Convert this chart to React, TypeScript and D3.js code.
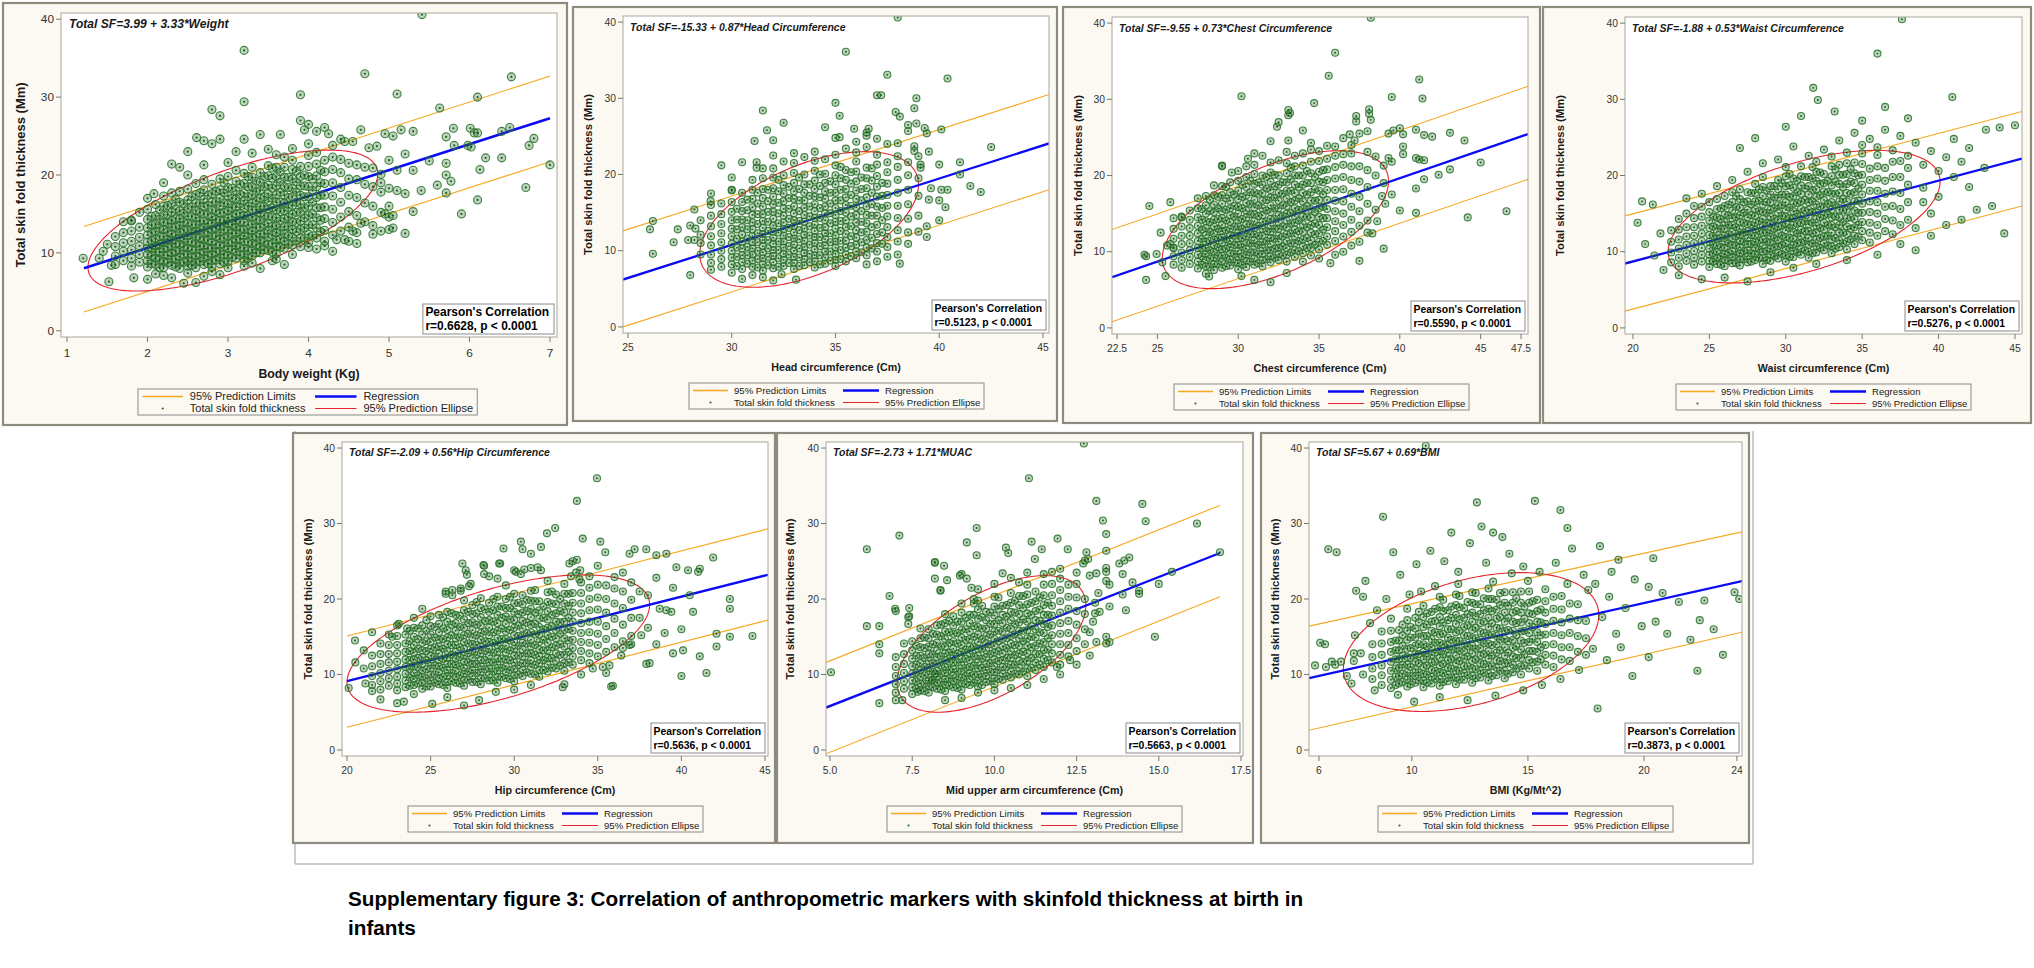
import React from "react";
import * as d3 from "d3";

const FONT = "Arial, 'Liberation Sans', Helvetica, sans-serif";

// ---------------- DATA ----------------
const equations = [
  "Total SF=3.99 + 3.33*Weight",
  "Total SF=-15.33 + 0.87*Head Circumference",
  "Total SF=-9.55 + 0.73*Chest Circumference",
  "Total SF=-1.88 + 0.53*Waist Circumference",
  "Total SF=-2.09 + 0.56*Hip Circumference",
  "Total SF=-2.73 + 1.71*MUAC",
  "Total SF=5.67 + 0.69*BMI",
];
const xTitles = [
  "Body weight (Kg)",
  "Head circumference (Cm)",
  "Chest circumference (Cm)",
  "Waist circumference (Cm)",
  "Hip circumference (Cm)",
  "Mid upper arm circumference (Cm)",
  "BMI (Kg/Mt^2)",
];
const pearsonR = ["0.6628", "0.5123", "0.5590", "0.5276", "0.5636", "0.5663", "0.3873"];
const yTitle = "Total skin fold thickness (Mm)";
const legendLabels = ["95% Prediction Limits", "Regression", "Total skin fold thickness", "95% Prediction Ellipse"];
const xTickValues = [
  [1, 2, 3, 4, 5, 6, 7],
  [25, 30, 35, 40, 45],
  [22.5, 25, 30, 35, 40, 45, 47.5],
  [20, 25, 30, 35, 40, 45],
  [20, 25, 30, 35, 40, 45],
  [5, 7.5, 10, 12.5, 15, 17.5],
  [6, 10, 15, 20, 24],
];
const yTickValues = [0, 10, 20, 30, 40];
const yDomain = [-0.8, 40.8];
const xDomains = [
  [0.925, 7.087], [24.76, 45.29], [22.19, 47.93], [19.48, 45.46],
  [19.7, 45.18], [4.878, 17.56], [5.57, 24.22],
];
// intercept, slope
const fitCoefs = [[3.99, 3.33], [-15.33, 0.87], [-9.55, 0.73], [-1.88, 0.53], [-2.09, 0.56], [-2.73, 1.71], [5.67, 0.69]];
const fitRanges = [[1.21, 7.0], [24.76, 45.29], [22.19, 47.93], [19.48, 45.46], [20.0, 45.18], [4.88, 16.86], [5.57, 24.22]];
// lower@start, upper@start, lower@end, upper@end
const limitEnds = [
  [2.4, 13.4, 21.7, 32.7],
  [0.0, 12.6, 18.0, 30.5],
  [0.8, 12.9, 19.5, 31.7],
  [2.2, 14.7, 16.0, 28.4],
  [3.0, 15.1, 17.2, 29.3],
  [-0.5, 11.6, 20.3, 32.4],
  [2.6, 16.4, 15.6, 28.9],
];
// centre x, centre y, half x-extent, half y-extent, r
const ellipses = [
  [3.06, 14.15, 1.8, 9.05, 0.6628],
  [33.73, 14.1, 5.27, 8.9, 0.5123],
  [32.3, 14.2, 7.0, 9.05, 0.559],
  [31.2, 14.6, 8.9, 8.7, 0.5276],
  [29.05, 14.1, 9.05, 9.1, 0.5636],
  [9.91, 14.05, 2.87, 9.05, 0.5663],
  [12.55, 14.3, 5.5, 9.2, 0.3873],
];

// columns: [x, y1, y2, ...]
const weightCore = [
  [1.6, 8.5, 9.6, 10.8, 12.1], [1.7, 9.0, 10.2, 11.3, 12.6], [1.8, 8.3, 9.3, 10.4, 11.5, 12.8, 14.2],
  [1.9, 8.8, 9.8, 10.9, 12.0, 13.3], [2.0, 8.2, 9.0, 9.8, 10.6, 11.4, 12.3, 13.2, 14.3, 15.6],
  [2.1, 8.5, 9.3, 10.1, 10.9, 11.8, 12.7, 13.7, 14.8, 16.2],
  [2.2, 8.1, 8.9, 9.7, 10.5, 11.3, 12.1, 13.0, 13.9, 14.9, 16.0, 17.3],
  [2.3, 8.4, 9.2, 10.0, 10.8, 11.6, 12.4, 13.3, 14.2, 15.2, 16.3, 17.7],
  [2.4, 8.0, 8.7, 9.5, 10.3, 11.1, 11.9, 12.7, 13.5, 14.4, 15.4, 16.5, 17.9],
  [2.5, 8.3, 9.0, 9.8, 10.6, 11.4, 12.2, 13.0, 13.8, 14.7, 15.7, 16.8, 18.2],
  [2.6, 8.1, 8.8, 9.6, 10.4, 11.2, 12.0, 12.8, 13.6, 14.5, 15.4, 16.4, 17.5, 18.9],
  [2.7, 8.5, 9.3, 10.1, 10.9, 11.7, 12.5, 13.3, 14.1, 15.0, 15.9, 16.9, 18.1, 19.4],
  [2.8, 8.2, 9.0, 9.8, 10.6, 11.4, 12.2, 13.0, 13.8, 14.6, 15.5, 16.5, 17.6, 18.8],
  [2.9, 8.6, 9.4, 10.2, 11.0, 11.8, 12.6, 13.4, 14.2, 15.1, 16.0, 17.0, 18.1, 19.5],
  [3.0, 8.9, 9.7, 10.5, 11.3, 12.1, 12.9, 13.7, 14.5, 15.4, 16.3, 17.3, 18.4, 19.8],
  [3.1, 9.3, 10.1, 10.9, 11.7, 12.5, 13.3, 14.1, 15.0, 15.9, 16.9, 18.0, 19.2, 20.6],
  [3.2, 9.0, 9.8, 10.6, 11.4, 12.2, 13.0, 13.9, 14.8, 15.7, 16.7, 17.7, 18.9, 20.2],
  [3.3, 9.6, 10.4, 11.2, 12.0, 12.8, 13.7, 14.6, 15.5, 16.4, 17.4, 18.5, 19.7, 21.0],
  [3.4, 10.0, 10.8, 11.6, 12.4, 13.3, 14.2, 15.1, 16.0, 17.0, 18.0, 19.1, 20.3],
  [3.5, 10.3, 11.1, 12.0, 12.9, 13.8, 14.7, 15.6, 16.6, 17.6, 18.7, 19.9, 21.2],
  [3.6, 9.9, 10.8, 11.7, 12.6, 13.5, 14.5, 15.5, 16.5, 17.5, 18.6, 19.8, 21.0],
  [3.7, 10.6, 11.5, 12.4, 13.4, 14.4, 15.4, 16.4, 17.4, 18.5, 19.7, 21.0, 22.3],
  [3.8, 11.0, 12.0, 13.0, 14.0, 15.0, 16.1, 17.2, 18.3, 19.5, 20.7, 21.9],
  [3.9, 10.8, 11.9, 13.0, 14.1, 15.2, 16.3, 17.4, 18.6, 19.8, 21.1],
  [4.0, 11.3, 12.4, 13.6, 14.8, 16.0, 17.2, 18.5, 19.8, 21.1, 22.5],
  [4.1, 11.9, 13.2, 14.5, 15.8, 17.1, 18.5, 19.9, 21.4],
  [4.2, 11.5, 12.9, 14.4, 15.9, 17.4, 18.9, 20.4, 21.9],
  [4.3, 12.3, 13.9, 15.6, 17.3, 19.0, 20.7, 22.3],
  [4.4, 12.8, 14.6, 16.5, 18.4, 20.3, 22.0],
  [4.5, 13.3, 15.3, 17.4, 19.5, 21.5], [4.6, 12.6, 14.8, 17.1, 19.4, 21.3],
  [4.7, 14.0, 16.4, 18.8, 21.0], [4.8, 13.5, 16.0, 18.5, 20.9], [4.9, 15.2, 17.8, 20.1], [5.0, 14.6, 18.3],
];
const weightDense = [
  [2.05, 8.6, 9.6, 10.6, 11.6, 12.6, 13.6, 14.7], [2.15, 8.1, 9.1, 10.1, 11.1, 12.1, 13.2, 14.3, 15.5],
  [2.25, 8.7, 9.7, 10.7, 11.7, 12.7, 13.8, 14.9, 16.1], [2.35, 8.2, 9.2, 10.2, 11.2, 12.2, 13.3, 14.4, 15.6, 16.9],
  [2.45, 8.8, 9.8, 10.8, 11.8, 12.9, 14.0, 15.1, 16.3], [2.55, 8.4, 9.4, 10.4, 11.4, 12.5, 13.6, 14.7, 15.9, 17.2],
  [2.65, 8.9, 9.9, 10.9, 11.9, 13.0, 14.1, 15.2, 16.4, 17.7], [2.75, 8.6, 9.6, 10.6, 11.6, 12.7, 13.8, 14.9, 16.1, 17.4],
  [2.85, 9.1, 10.1, 11.1, 12.1, 13.2, 14.3, 15.4, 16.6, 17.9], [2.95, 8.8, 9.8, 10.8, 11.9, 13.0, 14.1, 15.2, 16.4, 17.7, 19.0],
  [3.05, 9.4, 10.4, 11.4, 12.5, 13.6, 14.7, 15.8, 17.0, 18.3], [3.15, 9.7, 10.7, 11.8, 12.9, 14.0, 15.1, 16.3, 17.5, 18.8],
  [3.25, 9.3, 10.3, 11.4, 12.5, 13.6, 14.8, 16.0, 17.2, 18.5, 19.8], [3.35, 10.0, 11.0, 12.1, 13.2, 14.3, 15.5, 16.7, 17.9, 19.2],
  [3.45, 10.4, 11.4, 12.5, 13.6, 14.8, 16.0, 17.2, 18.5, 19.8], [3.55, 10.1, 11.2, 12.3, 13.4, 14.6, 15.8, 17.0, 18.3, 19.6, 20.9],
  [3.65, 10.7, 11.8, 12.9, 14.1, 15.3, 16.5, 17.8, 19.1, 20.4], [3.75, 11.1, 12.2, 13.4, 14.6, 15.8, 17.1, 18.4, 19.7],
  [3.85, 11.5, 12.7, 13.9, 15.2, 16.5, 17.8, 19.1, 20.5], [3.95, 11.9, 13.2, 14.5, 15.8, 17.2, 18.6, 20.0],
  [4.05, 12.2, 13.6, 15.0, 16.5, 18.0, 19.5], [4.15, 12.7, 14.2, 15.8, 17.4, 19.0, 20.6],
];
const weightOut = [
  [1.2, 9.3], [1.4, 9.3], [1.5, 11.1], [1.52, 6.3], [1.45, 10.2], [1.55, 8.4], [1.83, 6.8], [2.0, 6.6], [2.3, 6.8],
  [2.45, 6.1], [2.6, 6.2], [2.9, 7.2], [2.8, 7.6], [3.4, 8.0], [3.7, 8.5], [3.55, 9.0], [4.0, 10.7], [4.35, 11.7],
  [4.45, 11.7], [4.55, 12.8], [4.65, 13.8], [5.05, 13.2], [5.2, 12.5], [4.95, 15.0], [5.05, 14.8], [5.3, 15.3],
  [5.1, 18.0], [5.2, 17.6], [5.4, 18.0], [5.1, 20.6], [5.0, 21.9], [5.2, 22.7], [5.3, 25.6], [5.15, 25.8],
  [5.05, 25.0], [4.95, 25.3], [4.65, 25.8], [4.55, 24.3], [4.45, 24.3], [4.2, 26.1], [4.1, 25.6], [4.0, 26.5],
  [3.9, 27.0], [3.95, 25.8], [3.4, 25.2], [3.65, 25.2], [4.25, 25.3], [4.75, 23.5], [4.85, 23.7], [5.41, 40.6],
  [3.2, 36.0], [4.7, 33.0], [5.1, 30.4], [3.9, 30.3], [3.2, 29.4], [2.8, 28.4], [2.9, 27.6], [5.63, 28.6],
  [2.61, 24.8], [2.7, 24.4], [2.8, 24.0], [2.9, 24.6], [3.2, 24.6], [2.5, 23.0], [2.3, 21.4], [2.4, 21.0],
  [2.5, 20.0], [2.08, 17.6], [1.8, 14.1], [6.52, 32.6], [6.1, 30.0], [5.8, 26.0], [6.01, 26.0], [6.06, 25.4],
  [6.1, 25.4], [6.4, 25.6], [6.5, 26.1], [6.8, 24.7], [6.74, 23.8], [5.81, 23.8], [5.98, 23.8], [6.02, 23.6],
  [5.71, 24.9], [5.71, 21.5], [5.71, 20.0], [5.77, 19.2], [5.71, 17.7], [6.2, 22.2], [6.4, 22.2], [6.13, 20.7],
  [6.7, 18.4], [6.1, 16.8], [5.9, 15.0], [7.0, 21.3], [3.0, 21.6], [3.3, 22.8], [3.5, 23.3], [3.6, 22.6],
  [3.8, 23.4], [4.0, 24.0], [4.1, 22.9], [4.3, 23.8], [4.4, 24.6], [3.1, 23.0], [2.7, 21.3], [2.2, 19.0],
  [2.0, 17.0], [1.9, 15.2], [1.7, 14.0], [2.1, 7.3], [2.2, 7.1], [2.5, 7.4], [2.7, 7.0], [3.0, 8.1], [3.2, 8.3],
  [3.3, 8.7], [3.6, 9.2], [3.8, 9.8], [4.1, 10.5], [4.2, 10.9], [4.3, 10.2], [4.5, 11.5], [4.6, 11.2],
  [4.8, 12.4], [4.9, 12.8], [5.0, 13.0], [5.0, 16.0], [4.9, 19.0], [5.3, 20.6], [5.5, 21.8], [5.6, 18.7],
];

const headCore = [
  [29.0, 8.4, 9.5, 10.7, 11.9, 13.2, 14.6], [29.5, 7.9, 8.9, 10.0, 11.1, 12.3, 13.5, 14.8, 16.2],
  [30.0, 8.2, 9.1, 10.0, 10.9, 11.9, 12.9, 14.0, 15.1, 16.4, 17.9],
  [30.5, 7.6, 8.5, 9.4, 10.3, 11.2, 12.1, 13.1, 14.1, 15.2, 16.4, 17.6],
  [31.0, 7.9, 8.7, 9.5, 10.3, 11.1, 11.9, 12.8, 13.7, 14.7, 15.7, 16.8, 18.0, 19.3],
  [31.5, 7.4, 8.2, 9.0, 9.8, 10.6, 11.4, 12.2, 13.0, 13.9, 14.8, 15.8, 16.9, 18.1, 19.5],
  [32.0, 7.7, 8.5, 9.3, 10.1, 10.9, 11.7, 12.5, 13.3, 14.2, 15.1, 16.1, 17.1, 18.2, 19.6, 20.8],
  [32.5, 8.0, 8.8, 9.6, 10.4, 11.2, 12.0, 12.8, 13.7, 14.6, 15.5, 16.5, 17.5, 18.6, 19.9],
  [33.0, 7.6, 8.4, 9.2, 10.0, 10.8, 11.6, 12.4, 13.2, 14.0, 14.9, 15.8, 16.8, 17.8, 18.9, 20.2, 21.5],
  [33.5, 8.1, 8.9, 9.7, 10.5, 11.3, 12.1, 12.9, 13.8, 14.7, 15.6, 16.6, 17.6, 18.7, 20.0],
  [34.0, 7.8, 8.6, 9.4, 10.2, 11.0, 11.8, 12.6, 13.4, 14.3, 15.2, 16.1, 17.1, 18.1, 19.2, 20.5, 21.8],
  [34.5, 8.3, 9.1, 9.9, 10.7, 11.5, 12.3, 13.1, 14.0, 14.9, 15.8, 16.8, 17.8, 18.9, 20.1],
  [35.0, 8.0, 8.8, 9.6, 10.4, 11.2, 12.0, 12.9, 13.8, 14.7, 15.6, 16.6, 17.6, 18.7, 19.9, 21.2],
  [35.5, 8.6, 9.5, 10.4, 11.3, 12.2, 13.1, 14.0, 15.0, 16.0, 17.0, 18.1, 19.3, 20.6],
  [36.0, 9.0, 9.9, 10.8, 11.7, 12.7, 13.7, 14.7, 15.7, 16.8, 17.9, 19.1, 20.4, 21.7],
  [36.5, 9.4, 10.4, 11.4, 12.5, 13.6, 14.7, 15.8, 17.0, 18.2, 19.5, 20.9],
  [37.0, 9.9, 11.0, 12.2, 13.4, 14.6, 15.8, 17.1, 18.4, 19.8, 21.3],
  [37.5, 10.5, 11.8, 13.1, 14.5, 15.9, 17.3, 18.8, 20.3],
  [38.0, 11.2, 12.7, 14.3, 15.9, 17.6, 19.3, 21.0], [38.5, 12.4, 14.2, 16.1, 18.0, 19.9],
];
const headDense = [
  [30.25, 8.0, 9.2, 10.4, 11.6, 12.8, 14.1, 15.5], [30.75, 8.3, 9.4, 10.5, 11.6, 12.8, 14.0, 15.3, 16.7],
  [31.25, 7.8, 8.9, 10.0, 11.1, 12.3, 13.5, 14.8, 16.2, 17.6], [31.75, 8.1, 9.2, 10.3, 11.4, 12.6, 13.8, 15.1, 16.5, 18.0],
  [32.25, 7.9, 9.0, 10.1, 11.2, 12.4, 13.6, 14.9, 16.3, 17.8, 19.3], [32.75, 8.4, 9.5, 10.6, 11.8, 13.0, 14.2, 15.5, 16.9, 18.4],
  [33.25, 8.0, 9.1, 10.3, 11.5, 12.7, 13.9, 15.2, 16.6, 18.1, 19.6], [33.75, 8.5, 9.6, 10.8, 12.0, 13.2, 14.5, 15.8, 17.2, 18.7],
  [34.25, 8.2, 9.4, 10.6, 11.8, 13.0, 14.3, 15.6, 17.0, 18.5, 20.0], [34.75, 8.7, 9.9, 11.1, 12.3, 13.6, 14.9, 16.2, 17.6, 19.1],
  [35.25, 8.9, 10.1, 11.3, 12.6, 13.9, 15.2, 16.6, 18.0, 19.5, 21.0], [35.75, 9.3, 10.6, 11.9, 13.2, 14.5, 15.9, 17.3, 18.8, 20.3],
  [36.25, 9.8, 11.1, 12.4, 13.8, 15.2, 16.6, 18.1, 19.6], [36.75, 10.3, 11.7, 13.1, 14.6, 16.1, 17.6, 19.2, 20.8],
  [37.25, 10.9, 12.4, 14.0, 15.6, 17.2, 18.9],
];
const headOut = [
  [26.2, 9.6], [26.06, 12.8], [26.2, 13.9], [28.0, 6.8], [27.4, 12.8], [27.2, 11.1], [27.9, 11.4], [28.2, 15.4],
  [28.0, 13.3], [28.25, 12.9], [28.2, 11.4], [28.98, 16.5], [29.5, 21.2], [30.0, 18.0], [30.5, 6.3], [31.1, 24.4],
  [31.5, 28.4], [31.7, 25.8], [32.0, 24.5], [32.5, 26.8], [30.5, 21.6], [31.2, 21.6], [31.2, 20.9], [32.0, 6.1],
  [33.1, 6.2], [32.4, 6.9], [38.0, 40.6], [35.5, 36.1], [37.5, 33.1], [40.4, 32.6], [37.0, 30.4], [37.2, 30.4],
  [38.9, 30.0], [35.0, 29.4], [38.8, 28.7], [35.2, 27.7], [37.9, 28.2], [38.1, 27.6], [34.5, 26.2], [42.5, 23.6],
  [41.0, 21.6], [41.0, 20.0], [41.5, 18.5], [42.0, 17.7], [40.1, 18.0], [40.4, 18.0], [40.0, 16.6], [40.3, 15.7],
  [39.4, 13.2], [39.4, 11.8], [39.5, 16.7], [39.6, 18.2], [37.0, 8.6], [38.1, 8.3], [40.1, 25.9], [39.3, 26.1],
  [38.9, 26.7], [39.4, 25.4], [40.0, 21.3], [39.1, 21.3], [39.1, 20.9], [38.8, 23.7], [38.8, 23.1], [38.5, 25.7],
  [38.5, 26.5], [36.5, 25.1], [36.5, 25.5], [36.6, 26.0], [35.9, 26.0], [35.2, 24.9], [35.0, 24.8], [33.5, 22.3],
  [34.0, 23.0], [34.5, 22.0], [35.0, 22.6], [35.5, 23.4], [36.0, 22.9], [36.5, 23.6], [37.0, 22.6], [37.5, 24.0],
  [38.0, 22.4], [37.5, 21.6], [33.0, 22.8], [32.5, 21.7], [32.0, 22.5], [31.5, 20.8], [36.0, 24.3], [37.0, 24.7],
  [38.0, 24.1], [38.5, 10.9], [39.0, 12.5], [39.0, 14.6], [39.0, 17.2], [39.0, 19.5], [38.5, 21.6], [39.5, 23.0],
  [40.0, 14.0], [38.0, 9.5], [37.5, 9.2], [36.5, 8.2], [39.0, 22.4], [29.0, 16.0], [29.0, 17.5], [28.5, 9.5],
  [28.5, 11.0], [28.5, 12.1], [28.5, 14.0], [29.0, 7.5], [30.0, 7.1], [31.0, 6.8], [31.5, 6.5], [30.0, 19.6],
];

const chestCore = [
  [26.0, 8.3, 9.4, 10.5, 11.7, 13.0, 14.4], [26.5, 7.9, 8.9, 9.9, 11.0, 12.1, 13.3, 14.6],
  [27.0, 8.4, 9.3, 10.2, 11.1, 12.1, 13.1, 14.2, 15.4],
  [27.5, 7.8, 8.7, 9.6, 10.5, 11.4, 12.4, 13.4, 14.5, 15.7, 17.0],
  [28.0, 8.1, 8.9, 9.7, 10.5, 11.3, 12.2, 13.1, 14.0, 15.0, 16.1, 17.3],
  [28.5, 7.6, 8.4, 9.2, 10.0, 10.8, 11.6, 12.4, 13.3, 14.2, 15.2, 16.2, 17.4, 18.7],
  [29.0, 7.9, 8.7, 9.5, 10.3, 11.1, 11.9, 12.7, 13.5, 14.4, 15.3, 16.3, 17.4, 18.6],
  [29.5, 8.2, 9.0, 9.8, 10.6, 11.4, 12.2, 13.0, 13.9, 14.8, 15.7, 16.7, 17.8, 19.1],
  [30.0, 7.7, 8.5, 9.3, 10.1, 10.9, 11.7, 12.5, 13.3, 14.1, 15.0, 15.9, 16.9, 18.0, 19.3, 20.6],
  [30.5, 8.0, 8.8, 9.6, 10.4, 11.2, 12.0, 12.8, 13.6, 14.5, 15.4, 16.4, 17.4, 18.5, 19.8],
  [31.0, 8.3, 9.1, 9.9, 10.7, 11.5, 12.3, 13.1, 14.0, 14.9, 15.8, 16.8, 17.8, 18.9, 20.2, 21.4],
  [31.5, 8.1, 8.9, 9.7, 10.5, 11.3, 12.1, 13.0, 13.9, 14.8, 15.7, 16.7, 17.7, 18.8, 20.0],
  [32.0, 8.6, 9.4, 10.2, 11.0, 11.8, 12.6, 13.4, 14.3, 15.2, 16.1, 17.1, 18.1, 19.2, 20.4, 21.7],
  [32.5, 8.9, 9.7, 10.5, 11.3, 12.1, 13.0, 13.9, 14.8, 15.7, 16.7, 17.7, 18.8, 20.0],
  [33.0, 8.7, 9.6, 10.5, 11.4, 12.3, 13.2, 14.1, 15.0, 16.0, 17.0, 18.0, 19.1, 20.3, 21.6],
  [33.5, 9.3, 10.2, 11.1, 12.0, 12.9, 13.8, 14.7, 15.7, 16.7, 17.7, 18.8, 20.0, 21.2],
  [34.0, 9.8, 10.7, 11.6, 12.6, 13.6, 14.6, 15.6, 16.6, 17.7, 18.8, 20.0, 21.3],
  [34.5, 9.5, 10.5, 11.5, 12.5, 13.5, 14.5, 15.6, 16.7, 17.8, 19.0, 20.3, 21.8],
  [35.0, 10.3, 11.3, 12.4, 13.5, 14.6, 15.7, 16.8, 18.0, 19.2, 20.5, 21.9],
  [35.5, 10.9, 12.0, 13.2, 14.4, 15.6, 16.8, 18.1, 19.4, 20.8, 22.2],
  [36.0, 11.4, 12.7, 14.0, 15.3, 16.7, 18.1, 19.6, 21.1, 22.6],
  [36.5, 12.0, 13.5, 15.0, 16.6, 18.2, 19.8, 21.4], [37.0, 12.6, 14.2, 15.9, 17.6, 19.4, 21.2, 22.9],
  [37.5, 13.4, 15.3, 17.2, 19.2, 21.2], [38.0, 14.1, 16.3, 18.5, 20.7],
];
const chestDense = [
  [27.75, 8.3, 9.4, 10.5, 11.7, 12.9, 14.2, 15.6], [28.25, 8.0, 9.1, 10.2, 11.4, 12.6, 13.9, 15.3, 16.8],
  [28.75, 8.4, 9.5, 10.6, 11.8, 13.0, 14.3, 15.7, 17.2], [29.25, 8.1, 9.2, 10.4, 11.6, 12.8, 14.1, 15.5, 17.0, 18.5],
  [29.75, 8.6, 9.7, 10.9, 12.1, 13.3, 14.6, 16.0, 17.5], [30.25, 8.3, 9.4, 10.6, 11.8, 13.0, 14.3, 15.7, 17.2, 18.8],
  [30.75, 8.7, 9.9, 11.1, 12.3, 13.6, 14.9, 16.3, 17.8, 19.3], [31.25, 8.5, 9.7, 10.9, 12.1, 13.4, 14.7, 16.1, 17.6, 19.1],
  [31.75, 9.0, 10.2, 11.4, 12.7, 14.0, 15.4, 16.8, 18.3, 19.8], [32.25, 9.2, 10.4, 11.7, 13.0, 14.3, 15.7, 17.1, 18.6, 20.1],
  [32.75, 9.5, 10.7, 12.0, 13.3, 14.7, 16.1, 17.6, 19.1], [33.25, 9.9, 11.1, 12.4, 13.7, 15.1, 16.5, 18.0, 19.5, 21.0],
  [33.75, 10.1, 11.4, 12.7, 14.1, 15.5, 17.0, 18.5, 20.0], [34.25, 10.5, 11.8, 13.2, 14.6, 16.0, 17.5, 19.0, 20.6],
  [34.75, 10.9, 12.3, 13.7, 15.2, 16.7, 18.2, 19.8], [35.25, 11.4, 12.9, 14.4, 15.9, 17.5, 19.1, 20.7],
];
const chestOut = [
  [24.5, 16.0], [25.8, 16.5], [24.2, 9.6], [24.3, 9.4], [24.3, 6.3], [25.5, 6.8], [24.95, 9.7], [25.2, 12.5],
  [26.0, 10.5], [25.6, 10.8], [25.8, 11.0], [26.5, 14.5], [25.3, 8.6], [38.2, 40.7], [36.0, 36.1], [35.6, 33.1],
  [41.2, 32.6], [30.2, 30.4], [39.5, 30.3], [41.4, 30.1], [34.7, 29.5], [33.1, 28.6], [33.1, 27.9], [33.2, 28.2],
  [38.1, 28.7], [38.1, 28.1], [38.2, 27.3], [37.3, 27.8], [37.3, 27.1], [32.5, 27.0], [32.4, 26.4], [34.0, 25.9],
  [36.5, 24.9], [36.9, 25.4], [37.2, 24.6], [37.5, 25.5], [38.0, 25.8], [39.3, 25.5], [39.6, 25.9], [40.0, 26.2],
  [40.2, 25.4], [41.0, 26.0], [41.5, 25.3], [42.0, 25.1], [43.1, 25.6], [44.0, 24.6], [32.0, 24.5], [33.1, 24.6],
  [31.5, 22.6], [30.6, 22.2], [29.0, 21.3], [29.6, 20.4], [40.2, 23.8], [40.2, 22.8], [41.0, 22.3], [41.5, 22.0],
  [41.2, 22.1], [39.0, 21.3], [39.3, 22.3], [39.5, 21.8], [41.5, 19.5], [42.4, 20.1], [43.1, 20.8], [45.0, 21.7],
  [41.0, 18.3], [41.0, 15.1], [40.0, 15.4], [44.2, 14.5], [46.6, 15.3], [39.1, 16.3], [38.9, 17.3], [38.6, 14.0],
  [38.3, 12.4], [39.0, 10.4], [37.5, 8.8], [35.7, 8.5], [30.2, 6.8], [31.0, 6.3], [32.0, 6.0], [33.0, 7.2],
  [28.0, 7.1], [28.2, 6.75], [29.0, 21.2], [33.5, 22.6], [34.0, 22.9], [34.5, 23.4], [35.0, 23.2], [35.5, 23.9],
  [36.0, 23.8], [36.5, 22.8], [37.0, 24.0], [34.5, 24.3], [33.0, 23.1], [32.5, 22.0], [30.5, 21.2], [31.0, 22.9],
  [38.5, 20.0], [38.5, 22.5], [38.0, 23.1], [39.0, 19.0], [39.5, 17.5], [38.5, 15.5], [38.0, 12.5], [37.5, 11.3],
  [37.0, 10.8], [36.0, 9.6], [36.5, 10.0], [34.0, 8.7], [35.0, 9.1],
];

const waistCore = [
  [22.5, 8.6, 9.9, 11.3, 12.8], [23.0, 8.1, 9.2, 10.4, 11.6, 12.9, 14.3], [23.5, 8.8, 9.8, 10.9, 12.0, 13.2, 15.0],
  [24.0, 8.3, 9.2, 10.1, 11.1, 12.1, 13.2, 14.4, 16.0], [24.5, 8.7, 9.6, 10.5, 11.4, 12.4, 13.4, 14.6, 15.9],
  [25.0, 8.0, 8.8, 9.6, 10.4, 11.3, 12.2, 13.1, 14.1, 15.2, 16.5],
  [25.5, 8.4, 9.2, 10.0, 10.8, 11.7, 12.6, 13.5, 14.5, 15.6, 16.9],
  [26.0, 8.1, 8.9, 9.7, 10.5, 11.3, 12.1, 13.0, 13.9, 14.9, 16.0, 17.3],
  [26.5, 8.5, 9.3, 10.1, 10.9, 11.7, 12.6, 13.5, 14.4, 15.4, 16.5, 17.8],
  [27.0, 8.2, 9.0, 9.8, 10.6, 11.4, 12.2, 13.0, 13.9, 14.8, 15.8, 16.9, 18.2],
  [27.5, 8.6, 9.4, 10.2, 11.0, 11.8, 12.7, 13.6, 14.5, 15.5, 16.6, 17.8],
  [28.0, 8.9, 9.7, 10.5, 11.3, 12.1, 12.9, 13.8, 14.7, 15.6, 16.6, 17.7, 18.9],
  [28.5, 8.4, 9.2, 10.0, 10.8, 11.6, 12.5, 13.4, 14.3, 15.2, 16.2, 17.3, 18.5, 19.8],
  [29.0, 8.8, 9.6, 10.4, 11.2, 12.0, 12.8, 13.7, 14.6, 15.5, 16.5, 17.5, 18.6],
  [29.5, 9.1, 9.9, 10.7, 11.5, 12.4, 13.3, 14.2, 15.1, 16.1, 17.1, 18.2, 19.4],
  [30.0, 8.7, 9.5, 10.3, 11.1, 11.9, 12.8, 13.7, 14.6, 15.5, 16.5, 17.5, 18.6, 19.9, 21.1],
  [30.5, 9.3, 10.1, 10.9, 11.7, 12.6, 13.5, 14.4, 15.3, 16.3, 17.3, 18.4, 19.6],
  [31.0, 9.6, 10.4, 11.2, 12.0, 12.9, 13.8, 14.7, 15.6, 16.6, 17.6, 18.7, 19.9, 21.2],
  [31.5, 9.2, 10.0, 10.9, 11.8, 12.7, 13.6, 14.5, 15.5, 16.5, 17.5, 18.6, 19.8],
  [32.0, 9.9, 10.7, 11.6, 12.5, 13.4, 14.3, 15.2, 16.2, 17.2, 18.2, 19.3, 20.5, 21.8],
  [32.5, 10.2, 11.1, 12.0, 12.9, 13.8, 14.8, 15.8, 16.8, 17.9, 19.0, 20.2],
  [33.0, 9.8, 10.7, 11.6, 12.5, 13.5, 14.5, 15.5, 16.5, 17.6, 18.7, 19.9, 21.2],
  [33.5, 10.6, 11.5, 12.5, 13.5, 14.5, 15.5, 16.6, 17.7, 18.9, 20.1, 21.4],
  [34.0, 10.3, 11.3, 12.3, 13.3, 14.4, 15.5, 16.6, 17.7, 18.9, 20.2, 21.6],
  [34.5, 11.0, 12.1, 13.2, 14.3, 15.4, 16.6, 17.8, 19.0, 20.3, 21.7],
  [35.0, 11.5, 12.7, 13.9, 15.1, 16.3, 17.5, 18.8, 20.1, 21.5, 22.9],
  [35.5, 11.2, 12.5, 13.8, 15.2, 16.6, 18.0, 19.4, 20.9], [36.0, 12.1, 13.5, 15.0, 16.5, 18.0, 19.6, 21.2, 22.7],
  [36.5, 12.7, 14.3, 15.9, 17.6, 19.3, 21.0], [37.0, 12.3, 14.1, 16.0, 17.9, 19.8, 21.8],
  [37.5, 13.5, 15.6, 17.7, 19.8, 21.9], [38.0, 14.2, 16.5, 18.8, 21.0],
];
const waistDense = [
  [25.25, 8.7, 9.8, 10.9, 12.1, 13.3, 14.6], [25.75, 8.3, 9.4, 10.6, 11.8, 13.0, 14.3, 15.7],
  [26.25, 8.8, 9.9, 11.1, 12.3, 13.5, 14.8, 16.2], [26.75, 8.5, 9.6, 10.8, 12.0, 13.2, 14.5, 15.9, 17.3],
  [27.25, 9.0, 10.1, 11.3, 12.5, 13.8, 15.1, 16.5], [27.75, 8.7, 9.8, 11.0, 12.2, 13.5, 14.8, 16.2, 17.7],
  [28.25, 9.2, 10.3, 11.5, 12.7, 14.0, 15.3, 16.7, 18.2], [28.75, 8.9, 10.1, 11.3, 12.5, 13.8, 15.1, 16.5, 18.0],
  [29.25, 9.4, 10.6, 11.8, 13.0, 14.3, 15.7, 17.1, 18.6], [29.75, 9.7, 10.9, 12.1, 13.4, 14.7, 16.1, 17.5, 19.0],
  [30.25, 9.3, 10.5, 11.8, 13.1, 14.4, 15.8, 17.2, 18.7, 20.2], [30.75, 9.9, 11.1, 12.4, 13.7, 15.0, 16.4, 17.8, 19.3],
  [31.25, 10.2, 11.4, 12.7, 14.0, 15.4, 16.8, 18.3, 19.8], [31.75, 9.8, 11.1, 12.4, 13.8, 15.2, 16.6, 18.1, 19.6, 21.1],
  [32.25, 10.5, 11.8, 13.1, 14.5, 15.9, 17.4, 18.9, 20.4], [32.75, 10.8, 12.1, 13.5, 14.9, 16.3, 17.8, 19.3],
  [33.25, 10.4, 11.8, 13.2, 14.6, 16.1, 17.6, 19.2, 20.8], [33.75, 11.1, 12.5, 13.9, 15.4, 16.9, 18.5, 20.1],
  [34.25, 11.6, 13.0, 14.5, 16.0, 17.6, 19.2, 20.8], [34.75, 12.0, 13.5, 15.1, 16.7, 18.3, 20.0],
];
const waistOut = [
  [37.6, 40.5], [36.0, 36.0], [31.8, 31.5], [40.9, 30.3], [32.1, 29.9], [31.0, 27.8], [33.2, 28.4], [43.1, 26.0],
  [44.0, 26.3], [45.0, 26.6], [20.6, 16.6], [21.3, 16.2], [20.3, 13.8], [20.8, 11.0], [21.4, 9.5], [21.8, 12.4],
  [22.0, 7.6], [23.0, 6.9], [24.5, 6.4], [26.0, 6.6], [27.5, 6.1], [29.0, 7.3], [30.5, 7.9], [32.0, 8.4],
  [34.0, 8.9], [36.0, 9.6], [37.5, 11.0], [38.5, 10.2], [39.5, 12.1], [40.5, 13.5], [41.5, 14.2], [42.5, 15.5],
  [43.5, 16.0], [44.3, 12.4], [42.0, 18.5], [41.0, 19.8], [40.0, 20.6], [39.0, 21.4], [39.5, 23.2], [40.5, 22.4],
  [41.5, 21.8], [43.0, 21.0], [38.5, 24.3], [37.5, 25.2], [36.5, 26.0], [35.5, 24.8], [34.5, 25.6], [33.5, 24.6],
  [32.5, 23.4], [31.5, 22.6], [30.5, 23.8], [29.5, 22.1], [28.5, 21.6], [27.5, 20.5], [26.5, 19.4], [25.5, 18.6],
  [24.5, 17.6], [23.5, 17.0], [34.0, 23.0], [35.0, 24.0], [36.0, 23.7], [37.0, 23.3], [38.0, 22.6], [33.0, 22.5],
  [39.0, 16.5], [39.0, 18.4], [38.5, 13.1], [39.5, 15.0], [40.0, 17.2], [36.5, 29.0], [35.0, 27.2], [38.0, 27.5],
  [41.0, 24.8], [30.0, 26.4], [28.0, 24.9], [27.0, 23.6], [42.0, 23.6],
];

const hipCore = [
  [21.5, 8.6, 9.8, 11.1, 12.5], [22.0, 8.0, 9.1, 10.2, 11.4, 12.7, 14.1], [22.5, 8.5, 9.5, 10.5, 11.6, 12.7, 13.9, 15.3],
  [23.0, 7.9, 8.8, 9.7, 10.7, 11.7, 12.8, 13.9, 15.1, 16.5], [23.5, 8.3, 9.2, 10.1, 11.0, 12.0, 13.0, 14.1, 15.3],
  [24.0, 8.6, 9.4, 10.2, 11.1, 12.0, 12.9, 13.9, 15.0, 16.2, 17.5],
  [24.5, 8.1, 8.9, 9.7, 10.5, 11.4, 12.3, 13.2, 14.2, 15.3, 16.5],
  [25.0, 8.4, 9.2, 10.0, 10.8, 11.6, 12.5, 13.4, 14.3, 15.3, 16.4, 17.7],
  [25.5, 8.7, 9.5, 10.3, 11.1, 11.9, 12.8, 13.7, 14.6, 15.6, 16.7, 17.9],
  [26.0, 8.2, 9.0, 9.8, 10.6, 11.4, 12.2, 13.1, 14.0, 14.9, 15.9, 17.0, 18.3],
  [26.5, 8.9, 9.7, 10.5, 11.3, 12.1, 13.0, 13.9, 14.8, 15.8, 16.8, 17.9],
  [27.0, 8.5, 9.3, 10.1, 10.9, 11.7, 12.5, 13.4, 14.3, 15.2, 16.2, 17.3, 18.5, 19.8],
  [27.5, 9.0, 9.8, 10.6, 11.4, 12.2, 13.1, 14.0, 14.9, 15.9, 16.9, 18.0, 19.2],
  [28.0, 8.7, 9.5, 10.3, 11.1, 11.9, 12.8, 13.7, 14.6, 15.5, 16.5, 17.6, 18.8, 20.1],
  [28.5, 9.2, 10.0, 10.8, 11.6, 12.5, 13.4, 14.3, 15.2, 16.2, 17.2, 18.3, 19.5],
  [29.0, 8.9, 9.7, 10.5, 11.3, 12.1, 13.0, 13.9, 14.8, 15.8, 16.8, 17.9, 19.0, 20.3],
  [29.5, 9.5, 10.3, 11.1, 12.0, 12.9, 13.8, 14.7, 15.7, 16.7, 17.7, 18.8, 20.0],
  [30.0, 9.1, 9.9, 10.7, 11.6, 12.5, 13.4, 14.3, 15.2, 16.2, 17.2, 18.3, 19.4, 20.7],
  [30.5, 9.8, 10.6, 11.5, 12.4, 13.3, 14.2, 15.1, 16.1, 17.1, 18.2, 19.3, 20.5],
  [31.0, 10.1, 11.0, 11.9, 12.8, 13.7, 14.6, 15.6, 16.6, 17.6, 18.7, 19.8, 21.1],
  [31.5, 9.7, 10.6, 11.5, 12.4, 13.3, 14.3, 15.3, 16.3, 17.4, 18.5, 19.7],
  [32.0, 10.4, 11.3, 12.2, 13.2, 14.2, 15.2, 16.2, 17.3, 18.4, 19.6, 20.9],
  [32.5, 10.8, 11.8, 12.8, 13.8, 14.8, 15.9, 17.0, 18.1, 19.3, 20.6],
  [33.0, 10.5, 11.5, 12.6, 13.7, 14.8, 15.9, 17.0, 18.2, 19.4, 20.7, 22.0],
  [33.5, 11.3, 12.4, 13.5, 14.6, 15.8, 17.0, 18.2, 19.5, 20.8],
  [34.0, 11.9, 13.1, 14.3, 15.5, 16.8, 18.1, 19.4, 20.8, 22.2],
  [34.5, 11.5, 12.8, 14.2, 15.6, 17.0, 18.5, 20.0, 21.5], [35.0, 12.4, 13.9, 15.4, 17.0, 18.6, 20.2, 21.9],
  [35.5, 13.0, 14.7, 16.4, 18.2, 20.0, 21.8], [36.0, 13.6, 15.5, 17.4, 19.4, 21.4], [36.5, 14.4, 16.6, 18.8, 21.0],
  [37.0, 15.1, 17.5, 19.9],
];
const hipDense = [
  [23.75, 8.5, 9.6, 10.7, 11.9, 13.1, 14.4, 15.8], [24.25, 8.8, 9.9, 11.0, 12.2, 13.4, 14.7, 16.1],
  [24.75, 8.4, 9.5, 10.7, 11.9, 13.1, 14.4, 15.8, 17.2], [25.25, 8.9, 10.0, 11.2, 12.4, 13.6, 14.9, 16.3],
  [25.75, 8.6, 9.7, 10.9, 12.1, 13.4, 14.7, 16.1, 17.6], [26.25, 9.1, 10.2, 11.4, 12.6, 13.9, 15.2, 16.6, 18.1],
  [26.75, 8.8, 9.9, 11.1, 12.3, 13.6, 14.9, 16.3, 17.8], [27.25, 9.3, 10.4, 11.6, 12.8, 14.1, 15.4, 16.8, 18.3],
  [27.75, 9.0, 10.2, 11.4, 12.6, 13.9, 15.2, 16.6, 18.1, 19.6], [28.25, 9.5, 10.7, 11.9, 13.1, 14.4, 15.7, 17.1, 18.6],
  [28.75, 9.2, 10.4, 11.6, 12.9, 14.2, 15.6, 17.0, 18.5, 20.0], [29.25, 9.7, 10.9, 12.1, 13.4, 14.7, 16.1, 17.5, 19.0],
  [29.75, 9.4, 10.6, 11.9, 13.2, 14.5, 15.9, 17.3, 18.8, 20.3], [30.25, 10.0, 11.2, 12.5, 13.8, 15.1, 16.5, 18.0, 19.5],
  [30.75, 10.3, 11.5, 12.8, 14.1, 15.5, 16.9, 18.4, 19.9], [31.25, 10.0, 11.3, 12.6, 13.9, 15.3, 16.7, 18.2, 19.7, 21.2],
  [31.75, 10.6, 11.9, 13.2, 14.6, 16.0, 17.5, 19.0], [32.25, 10.9, 12.2, 13.6, 15.0, 16.4, 17.9, 19.4, 21.0],
  [32.75, 11.2, 12.6, 14.0, 15.4, 16.9, 18.4, 20.0], [33.25, 11.6, 13.0, 14.5, 16.0, 17.5, 19.1, 20.7],
];
const hipOut = [
  [34.95, 36.0], [33.75, 33.0], [31.96, 28.7], [32.45, 29.4], [34.1, 28.0], [35.15, 27.6], [35.45, 26.2],
  [30.4, 27.6], [30.5, 26.6], [31.0, 26.0], [31.6, 26.9], [29.36, 26.7], [28.16, 24.5], [29.16, 24.7],
  [27.17, 23.2], [28.2, 23.3], [28.5, 23.0], [29.0, 22.7], [30.1, 23.6], [30.6, 23.9], [31.0, 24.1], [31.6, 23.8],
  [33.7, 23.5], [33.4, 23.0], [33.9, 22.6], [33.3, 24.7], [33.5, 25.0], [33.75, 25.2], [33.95, 23.8], [25.9, 21.0],
  [26.3, 21.2], [26.8, 21.4], [27.3, 21.7], [27.4, 22.0], [20.48, 14.5], [44.25, 15.1], [42.9, 15.0], [42.9, 20.0],
  [42.9, 18.7], [42.1, 15.4], [42.1, 13.7], [41.5, 10.2], [41.1, 12.4], [40.7, 18.3], [40.1, 13.2], [39.5, 12.8],
  [39.1, 18.5], [39.4, 18.3], [38.7, 18.7], [38.1, 11.5], [37.6, 15.2], [35.9, 8.5], [41.9, 25.5], [40.4, 23.8],
  [41.0, 23.6], [41.1, 24.0], [39.7, 24.2], [39.1, 26.0], [38.5, 25.8], [37.9, 26.6], [37.2, 26.6], [36.9, 26.0],
  [20.1, 8.2], [21.1, 8.8], [21.5, 7.8], [22.0, 6.7], [23.0, 6.2], [23.4, 6.4], [25.1, 6.1], [27.0, 5.9],
  [27.9, 6.6], [28.9, 7.7], [32.9, 8.3], [33.0, 8.7], [35.8, 8.4], [34.7, 10.8], [35.3, 11.0], [35.7, 11.2],
  [37.9, 11.4], [36.4, 12.5], [36.9, 13.9], [26.9, 24.7], [27.1, 23.8], [28.2, 24.4], [29.1, 24.7], [30.0, 23.8],
  [30.4, 23.3], [31.4, 24.2], [25.9, 20.7], [26.3, 20.5], [26.8, 21.1], [23.6, 16.1], [23.1, 16.7], [22.7, 15.0],
  [36.0, 22.9], [36.5, 23.5], [37.0, 22.2], [37.5, 21.0], [38.0, 20.5], [37.5, 17.5], [38.0, 16.2], [36.5, 13.5],
  [37.0, 14.0], [35.5, 10.2], [34.0, 10.0], [31.0, 8.6], [30.0, 8.0], [26.0, 7.0], [24.0, 7.4], [21.0, 10.8],
  [20.5, 11.6], [21.0, 13.2], [34.5, 23.0], [35.0, 24.4], [32.0, 22.4], [29.5, 21.8], [24.5, 18.7], [21.5, 15.6],
  [38.5, 14.0], [39.0, 15.5], [40.0, 16.0], [40.5, 20.5], [39.5, 21.5], [38.5, 22.8], [40.0, 9.8],
];

const muacCore = [
  [7.0, 7.6, 8.7, 9.8, 11.0, 12.3], [7.25, 8.1, 9.1, 10.2, 11.4, 12.7, 14.1],
  [7.5, 7.4, 8.3, 9.2, 10.1, 11.1, 12.1, 13.2, 14.4], [7.75, 7.9, 8.8, 9.7, 10.6, 11.5, 12.5, 13.6, 14.8, 16.1],
  [8.0, 7.6, 8.4, 9.2, 10.0, 10.9, 11.8, 12.7, 13.7, 14.8, 16.0],
  [8.25, 8.1, 8.9, 9.7, 10.5, 11.4, 12.3, 13.2, 14.2, 15.3, 16.5],
  [8.5, 7.8, 8.6, 9.4, 10.2, 11.0, 11.9, 12.8, 13.7, 14.7, 15.7, 16.8, 18.0],
  [8.75, 8.3, 9.1, 9.9, 10.7, 11.6, 12.5, 13.4, 14.4, 15.4, 16.5, 17.7],
  [9.0, 8.0, 8.8, 9.6, 10.4, 11.2, 12.1, 13.0, 13.9, 14.9, 15.9, 17.0, 18.2, 19.4],
  [9.25, 8.6, 9.4, 10.2, 11.0, 11.9, 12.8, 13.7, 14.7, 15.7, 16.8, 17.9],
  [9.5, 8.4, 9.2, 10.0, 10.8, 11.6, 12.5, 13.4, 14.3, 15.3, 16.3, 17.4, 18.6, 19.8],
  [9.75, 9.0, 9.8, 10.6, 11.4, 12.3, 13.2, 14.1, 15.1, 16.1, 17.2, 18.3],
  [10.0, 8.7, 9.5, 10.3, 11.1, 12.0, 12.9, 13.8, 14.7, 15.7, 16.7, 17.8, 19.0, 20.3],
  [10.25, 9.3, 10.1, 11.0, 11.9, 12.8, 13.7, 14.7, 15.7, 16.8, 17.9, 19.1],
  [10.5, 9.6, 10.4, 11.3, 12.2, 13.1, 14.1, 15.1, 16.1, 17.2, 18.3, 19.5, 20.8],
  [10.75, 10.0, 10.9, 11.8, 12.8, 13.8, 14.8, 15.8, 16.9, 18.0, 19.2, 20.4],
  [11.0, 9.8, 10.8, 11.8, 12.8, 13.8, 14.8, 15.9, 17.0, 18.1, 19.3, 20.6, 21.9],
  [11.25, 10.6, 11.6, 12.7, 13.8, 14.9, 16.0, 17.2, 18.4, 19.7, 21.0],
  [11.5, 11.0, 12.1, 13.2, 14.3, 15.5, 16.7, 17.9, 19.2, 20.5, 21.9],
  [11.75, 11.6, 12.8, 14.0, 15.2, 16.5, 17.8, 19.1, 20.5, 22.0],
  [12.0, 11.3, 12.6, 14.0, 15.4, 16.8, 18.2, 19.7, 21.2, 22.7], [12.25, 12.4, 13.9, 15.5, 17.1, 18.7, 20.3, 21.9],
  [12.5, 13.1, 14.8, 16.6, 18.4, 20.2, 22.0], [12.75, 14.0, 16.0, 18.0, 20.0],
];
const muacDense = [
  [7.625, 8.1, 9.1, 10.2, 11.3, 12.5, 13.8], [7.875, 7.8, 8.8, 9.9, 11.0, 12.2, 13.5, 14.9],
  [8.125, 8.3, 9.3, 10.4, 11.5, 12.7, 14.0, 15.4], [8.375, 8.0, 9.0, 10.1, 11.2, 12.4, 13.7, 15.1, 16.6],
  [8.625, 8.5, 9.5, 10.6, 11.7, 12.9, 14.2, 15.6, 17.1], [8.875, 8.2, 9.3, 10.4, 11.6, 12.8, 14.1, 15.5, 17.0],
  [9.125, 8.7, 9.8, 10.9, 12.1, 13.3, 14.6, 16.0, 17.5], [9.375, 8.9, 10.0, 11.2, 12.4, 13.7, 15.0, 16.4, 17.9, 19.4],
  [9.625, 8.6, 9.7, 10.9, 12.1, 13.4, 14.7, 16.1, 17.6, 19.1], [9.875, 9.1, 10.3, 11.5, 12.7, 14.0, 15.3, 16.7, 18.2],
  [10.125, 9.4, 10.6, 11.8, 13.1, 14.4, 15.8, 17.2, 18.7, 20.2], [10.375, 9.8, 11.0, 12.2, 13.5, 14.8, 16.2, 17.7, 19.2],
  [10.625, 10.1, 11.3, 12.6, 13.9, 15.3, 16.7, 18.2, 19.8], [10.875, 10.4, 11.7, 13.0, 14.4, 15.8, 17.3, 18.8, 20.4],
  [11.125, 10.9, 12.2, 13.6, 15.0, 16.4, 17.9, 19.5], [11.375, 11.3, 12.7, 14.1, 15.6, 17.1, 18.6, 20.2],
  [11.625, 11.9, 13.3, 14.8, 16.3, 17.9, 19.5],
];
const muacOut = [
  [6.12, 26.6], [7.11, 28.4], [6.81, 20.4], [7.0, 18.4], [7.41, 18.8], [7.41, 17.7], [6.12, 16.4], [6.5, 16.4],
  [6.5, 14.0], [6.5, 12.8], [8.19, 24.8], [8.47, 24.4], [8.19, 22.7], [8.36, 21.2], [9.16, 27.5], [8.95, 23.1],
  [9.16, 22.7], [9.3, 21.5], [12.72, 40.6], [11.05, 36.0], [13.1, 33.0], [14.5, 32.6], [14.6, 30.3], [16.16, 30.0],
  [13.3, 30.4], [13.4, 28.6], [9.46, 29.4], [11.13, 27.6], [11.92, 28.0], [12.23, 26.6], [11.44, 26.6],
  [10.35, 26.8], [10.42, 26.1], [11.23, 25.3], [9.46, 25.8], [12.8, 26.2], [12.85, 25.3], [12.75, 25.1],
  [12.7, 24.7], [13.4, 26.4], [13.4, 24.1], [13.4, 23.6], [13.8, 24.7], [13.95, 25.1], [14.1, 25.5], [13.9, 23.3],
  [13.1, 23.4], [12.9, 23.1], [15.4, 23.6], [14.2, 22.2], [14.4, 21.1], [14.4, 20.7], [13.9, 20.6], [13.5, 21.9],
  [13.4, 22.4], [13.16, 20.8], [13.06, 19.5], [13.2, 18.3], [13.06, 18.1], [12.9, 15.6], [13.4, 15.0], [13.5, 14.3],
  [13.4, 14.1], [13.1, 14.3], [14.88, 15.0], [12.9, 12.5], [11.9, 11.0], [12.3, 11.9], [16.86, 26.2], [5.03, 10.3],
  [6.5, 6.2], [6.98, 18.7], [7.38, 17.6], [7.38, 16.7], [7.0, 6.6], [7.2, 6.6], [7.67, 7.7], [8.1, 9.2],
  [8.2, 10.1], [8.19, 24.9], [8.56, 22.5], [9.0, 23.3], [9.37, 20.0], [8.36, 21.1], [10.0, 22.0], [10.5, 22.8],
  [11.0, 23.5], [11.5, 23.3], [12.0, 24.0], [9.5, 21.3], [10.25, 23.4], [11.75, 23.6], [10.75, 22.2], [12.5, 23.5],
  [9.0, 6.9], [9.5, 7.6], [10.0, 7.9], [10.5, 8.2], [11.0, 8.6], [11.5, 9.4], [12.0, 10.0], [8.5, 6.6],
  [12.5, 11.3], [13.0, 17.0], [13.5, 19.0], [14.0, 18.5], [15.0, 22.0],
];

const bmiCore = [
  [8.3, 9.4, 10.8, 12.3, 14.0], [8.7, 8.6, 9.9, 11.2, 12.6, 14.1, 15.7],
  [9.1, 8.2, 9.3, 10.5, 11.7, 13.0, 14.3, 15.8, 17.4], [9.45, 8.8, 9.8, 10.9, 12.0, 13.2, 14.5, 15.9],
  [9.8, 8.4, 9.3, 10.3, 11.3, 12.3, 13.4, 14.6, 15.8, 17.2, 18.7],
  [10.15, 8.9, 9.8, 10.7, 11.7, 12.7, 13.8, 14.9, 16.1, 17.5],
  [10.5, 8.3, 9.2, 10.1, 11.0, 12.0, 13.0, 14.0, 15.1, 16.3, 17.6, 19.1],
  [10.85, 8.8, 9.7, 10.6, 11.6, 12.6, 13.6, 14.7, 15.8, 17.0, 18.3],
  [11.2, 8.5, 9.4, 10.3, 11.2, 12.2, 13.2, 14.2, 15.3, 16.4, 17.6, 18.9, 20.3],
  [11.55, 9.1, 10.0, 10.9, 11.9, 12.9, 13.9, 14.9, 16.0, 17.2, 18.5],
  [11.9, 8.7, 9.6, 10.5, 11.5, 12.5, 13.5, 14.5, 15.6, 16.7, 17.9, 19.2, 20.6],
  [12.25, 9.3, 10.2, 11.1, 12.1, 13.1, 14.1, 15.2, 16.3, 17.5, 18.8],
  [12.6, 8.9, 9.8, 10.8, 11.8, 12.8, 13.8, 14.8, 15.9, 17.0, 18.2, 19.5, 20.9],
  [12.95, 9.6, 10.5, 11.5, 12.5, 13.5, 14.6, 15.7, 16.8, 18.0, 19.3],
  [13.3, 9.2, 10.1, 11.1, 12.1, 13.1, 14.1, 15.2, 16.3, 17.5, 18.7, 20.0, 21.4],
  [13.65, 9.9, 10.9, 11.9, 12.9, 14.0, 15.1, 16.2, 17.4, 18.6, 19.9],
  [14.0, 9.5, 10.5, 11.5, 12.5, 13.6, 14.7, 15.8, 17.0, 18.2, 19.5, 20.9],
  [14.35, 10.3, 11.3, 12.4, 13.5, 14.6, 15.8, 17.0, 18.2, 19.5, 20.9],
  [14.7, 10.0, 11.1, 12.2, 13.3, 14.5, 15.7, 16.9, 18.2, 19.5, 21.0],
  [15.05, 10.8, 11.9, 13.1, 14.3, 15.5, 16.8, 18.1, 19.5, 21.0],
  [15.4, 10.5, 11.7, 13.0, 14.3, 15.6, 17.0, 18.4, 19.9], [15.75, 11.3, 12.6, 13.9, 15.3, 16.7, 18.2, 19.7, 21.3],
  [16.1, 11.0, 12.5, 14.0, 15.5, 17.1, 18.7, 20.3], [16.45, 12.0, 13.6, 15.2, 16.9, 18.6, 20.4],
  [16.8, 11.8, 13.6, 15.5, 17.4, 19.4], [17.15, 13.0, 15.1, 17.2, 19.3], [17.5, 12.6, 14.8, 17.1],
];
const bmiDense = [
  [9.3, 8.6, 9.7, 10.8, 12.0, 13.2, 14.5], [9.6, 9.0, 10.1, 11.3, 12.5, 13.8, 15.2, 16.6],
  [9.95, 8.7, 9.8, 11.0, 12.2, 13.5, 14.9, 16.3], [10.3, 9.2, 10.3, 11.5, 12.7, 14.0, 15.4, 16.9, 18.3],
  [10.65, 8.9, 10.0, 11.2, 12.4, 13.7, 15.1, 16.6, 18.1], [11.0, 9.4, 10.5, 11.7, 12.9, 14.2, 15.6, 17.1, 18.7],
  [11.35, 9.0, 10.2, 11.4, 12.7, 14.0, 15.4, 16.9, 18.4, 19.9], [11.7, 9.6, 10.8, 12.0, 13.3, 14.6, 16.0, 17.5, 19.0],
  [12.05, 9.3, 10.5, 11.8, 13.1, 14.4, 15.8, 17.3, 18.9, 20.4], [12.4, 9.9, 11.1, 12.4, 13.7, 15.1, 16.5, 18.0, 19.6],
  [12.75, 9.5, 10.7, 12.0, 13.4, 14.8, 16.2, 17.7, 19.3, 20.8], [13.1, 10.2, 11.4, 12.7, 14.1, 15.5, 17.0, 18.5, 20.1],
  [13.45, 9.8, 11.1, 12.5, 13.9, 15.3, 16.8, 18.4, 20.0], [13.8, 10.5, 11.8, 13.2, 14.6, 16.1, 17.6, 19.2, 20.8],
  [14.15, 10.1, 11.5, 12.9, 14.4, 15.9, 17.5, 19.1], [14.5, 10.8, 12.2, 13.7, 15.2, 16.8, 18.4, 20.1],
  [14.85, 11.2, 12.7, 14.2, 15.8, 17.4, 19.0], [15.2, 11.6, 13.1, 14.7, 16.3, 18.0, 19.7],
  [15.55, 12.0, 13.6, 15.2, 16.9, 18.6],
];
const bmiOut = [
  [6.4, 26.6], [6.76, 26.2], [7.6, 21.1], [7.9, 20.3], [6.05, 14.2], [6.26, 14.0], [7.55, 15.2], [7.5, 12.8],
  [7.8, 12.8], [7.5, 11.8], [5.83, 11.2], [6.55, 11.7], [6.95, 11.7], [6.3, 11.0], [6.7, 11.3], [10.6, 40.3],
  [8.76, 30.9], [12.8, 32.8], [15.3, 33.0], [16.4, 31.8], [16.7, 29.4], [13.0, 29.6], [13.5, 28.8], [13.9, 28.2],
  [18.1, 27.0], [18.9, 25.2], [19.6, 22.6], [20.2, 21.6], [23.9, 20.9], [24.1, 20.0], [22.0, 14.6], [22.4, 17.2],
  [22.6, 19.8], [23.0, 16.0], [19.5, 9.8], [20.2, 12.3], [18.0, 5.5], [8.0, 22.4], [8.5, 18.5], [8.2, 16.8],
  [8.9, 20.0], [9.5, 23.2], [10.2, 24.6], [10.8, 26.4], [11.4, 25.0], [12.0, 23.6], [12.5, 27.4], [13.2, 24.8],
  [14.2, 26.0], [14.8, 24.3], [15.5, 23.6], [16.2, 24.8], [16.9, 26.7], [17.4, 23.2], [17.9, 22.0], [18.5, 20.3],
  [18.2, 17.6], [18.8, 15.4], [19.2, 18.8], [17.8, 13.4], [18.4, 11.9], [19.0, 13.6], [20.5, 17.0], [21.0, 15.4],
  [17.2, 10.6], [16.4, 9.4], [15.6, 8.6], [14.8, 7.9], [13.6, 7.2], [12.4, 6.6], [11.2, 7.0], [10.1, 6.4],
  [9.4, 7.3], [8.4, 7.9], [7.4, 8.8], [7.9, 10.0], [7.2, 9.8], [21.5, 19.6], [20.8, 20.8], [19.9, 16.4],
  [15.0, 22.4], [13.5, 22.3], [12.0, 22.0], [11.0, 21.7], [10.4, 21.0], [9.9, 20.6], [16.7, 22.0], [17.6, 21.2],
  [14.3, 23.4], [18.6, 23.6], [20.4, 25.4], [11.7, 28.8], [9.2, 26.2], [23.4, 12.6], [22.3, 10.5],
];

const cores = [weightCore, headCore, chestCore, waistCore, hipCore, muacCore, bmiCore];
const denses = [weightDense, headDense, chestDense, waistDense, hipDense, muacDense, bmiDense];
const outs = [weightOut, headOut, chestOut, waistOut, hipOut, muacOut, bmiOut];
const captionLines = [
  "Supplementary figure 3: Correlation of anthropometric markers with skinfold thickness at birth in",
  "infants",
];

// ---------------- LAYOUT ----------------
type Lay = {
  outer: number[]; plot: number[]; k: number; legend: number[]; yTitleX: number;
  tickDy: number; titleDy: number; eq: number[]; fmt: (v: number) => string;
};
const plain = (v: number) => String(v);
const LAYOUT: Lay[] = [
  { outer: [3, 3, 567, 425], plot: [61, 13, 557, 337], k: 1.15, legend: [138, 389], yTitleX: 20, tickDy: 20, titleDy: 41, eq: [69, 28], fmt: plain },
  { outer: [573, 7, 1057, 421], plot: [623, 16, 1049, 333], k: 1, legend: [689, 383], yTitleX: 588, tickDy: 18, titleDy: 38, eq: [630, 31], fmt: plain },
  { outer: [1063, 7, 1540, 423], plot: [1112, 17, 1528, 334], k: 1, legend: [1174, 384], yTitleX: 1078, tickDy: 18, titleDy: 38, eq: [1119, 32], fmt: plain },
  { outer: [1543, 7, 2031, 423], plot: [1625, 17, 2022, 334], k: 1, legend: [1676, 384], yTitleX: 1560, tickDy: 18, titleDy: 38, eq: [1632, 32], fmt: plain },
  { outer: [293, 433, 775, 843], plot: [342, 442, 768, 756], k: 1, legend: [408, 806], yTitleX: 308, tickDy: 18, titleDy: 38, eq: [349, 456], fmt: plain },
  { outer: [777, 433, 1253, 843], plot: [826, 442, 1243, 756], k: 1, legend: [887, 806], yTitleX: 790, tickDy: 18, titleDy: 38, eq: [833, 456], fmt: (v) => v.toFixed(1) },
  { outer: [1261, 433, 1749, 843], plot: [1309, 442, 1742, 756], k: 1, legend: [1378, 806], yTitleX: 1275, tickDy: 18, titleDy: 38, eq: [1316, 456], fmt: plain },
];

const C = {
  panelBg: "#FBF9F2",
  frame: "#8E8A7E",
  plotFrame: "#A9A69C",
  orange: "#F6A821",
  blue: "#0A0AF5",
  red: "#E5242B",
  ring: "#29722A",
  fill: "rgba(38,115,38,0.30)",
  dot: "#164C16",
  text: "#1a1a1a",
  tick: "#333333",
};

const expand = (cols: number[][]) => cols.flatMap(([x, ...ys]) => ys.map((v) => [x, v]));

function Panel({ i }: { i: number }) {
  const L = LAYOUT[i];
  const k = L.k;
  const [ox0, oy0, ox1, oy1] = L.outer;
  const [px0, py0, px1, py1] = L.plot;
  const x = d3.scaleLinear().domain(xDomains[i]).range([px0, px1]);
  const y = d3.scaleLinear().domain(yDomain).range([py1, py0]);
  const line = d3.line<number[]>().x((d) => x(d[0])).y((d) => y(d[1]));
  const [b0, b1] = fitCoefs[i];
  const [f0, f1] = fitRanges[i];
  const [lo0, hi0, lo1, hi1] = limitEnds[i];
  const [cx, cy, ax, ay, r] = ellipses[i];
  const ell = d3
    .line<number>()
    .x((t) => x(cx + ax * Math.cos(t)))
    .y((t) => y(cy + ay * (r * Math.cos(t) + Math.sqrt(1 - r * r) * Math.sin(t))))
    .curve(d3.curveLinearClosed)(d3.range(0, 2 * Math.PI, Math.PI / 120));
  const pts = [...expand(cores[i]), ...expand(denses[i]), ...outs[i]];
  const clipId = `plotclip${i}`;
  const mr = 3.5 * k;
  const lx = L.legend[0];
  const ly = L.legend[1];
  const lw = 295 * k;
  const pbW = 114 * k;
  const pbH = 30;
  const pbX = px1 - 3 - pbW;
  const pbY = py1 - 3 - pbH;
  return (
    <g>
      <rect x={ox0} y={oy0} width={ox1 - ox0} height={oy1 - oy0} fill={C.panelBg} stroke={C.frame} strokeWidth={2.2} />
      <rect x={px0} y={py0} width={px1 - px0} height={py1 - py0} fill="#ffffff" />
      <clipPath id={clipId}>
        <rect x={px0} y={py0} width={px1 - px0} height={py1 - py0} />
      </clipPath>
      <g clipPath={`url(#${clipId})`}>
        <path d={line([[f0, hi0], [f1, hi1]]) || ""} stroke={C.orange} strokeWidth={1.1} fill="none" />
        <path d={line([[f0, lo0], [f1, lo1]]) || ""} stroke={C.orange} strokeWidth={1.1} fill="none" />
        <path d={ell || ""} stroke={C.red} strokeWidth={1.1} fill="none" />
        <path d={line([[f0, b0 + b1 * f0], [f1, b0 + b1 * f1]]) || ""} stroke={C.blue} strokeWidth={2.3 * k} fill="none" />
        <g>
          {pts.map((p, j) => (
            <circle key={`r${j}`} cx={x(p[0])} cy={y(p[1])} r={mr} fill={C.fill} stroke={C.ring} strokeOpacity={0.88} strokeWidth={1.1} />
          ))}
          {pts.map((p, j) => (
            <circle key={`d${j}`} cx={x(p[0])} cy={y(p[1])} r={0.95 * k} fill={C.dot} fillOpacity={0.9} />
          ))}
        </g>
      </g>
      <rect x={px0} y={py0} width={px1 - px0} height={py1 - py0} fill="none" stroke={C.plotFrame} strokeWidth={1} />
      {yTickValues.map((v) => (
        <g key={`yt${v}`}>
          <line x1={px0 - 5} x2={px0} y1={y(v)} y2={y(v)} stroke="#777" strokeWidth={1} />
          <text x={px0 - 7} y={y(v)} dy="0.35em" textAnchor="end" fontSize={10.3 * k} fill={C.tick} fontFamily={FONT}>
            {v}
          </text>
        </g>
      ))}
      {xTickValues[i].map((v) => (
        <g key={`xt${v}`}>
          <line x1={x(v)} x2={x(v)} y1={py1} y2={py1 + 5} stroke="#777" strokeWidth={1} />
          <text x={x(v)} y={py1 + L.tickDy} textAnchor="middle" fontSize={10.3 * k} fill={C.tick} fontFamily={FONT}>
            {L.fmt(v)}
          </text>
        </g>
      ))}
      <text
        transform={`translate(${L.yTitleX},${(py0 + py1) / 2}) rotate(-90)`}
        textAnchor="middle"
        dy="0.35em"
        fontSize={11.3 * k}
        fontWeight="bold"
        fill={C.text}
        fontFamily={FONT}
      >
        {yTitle}
      </text>
      <text x={(px0 + px1) / 2} y={py1 + L.titleDy} textAnchor="middle" fontSize={10.7 * k} fontWeight="bold" fill={C.text} fontFamily={FONT}>
        {xTitles[i]}
      </text>
      <text x={L.eq[0]} y={L.eq[1]} fontSize={10.5 * k} fontWeight="bold" fontStyle="italic" fill={C.text} fontFamily={FONT}>
        {equations[i]}
      </text>
      <rect x={pbX} y={pbY} width={pbW} height={pbH} fill="#ffffff" stroke="#8a8a8a" strokeWidth={1} />
      <text x={pbX + 2.5} y={pbY + 11.5} fontSize={10.4 * k} fontWeight="bold" fill="#000" fontFamily={FONT}>
        Pearson's Correlation
      </text>
      <text x={pbX + 2.5} y={pbY + 25.5} fontSize={10.4 * k} fontWeight="bold" fill="#000" fontFamily={FONT}>
        {`r=${pearsonR[i]}, p < 0.0001`}
      </text>
      <rect x={lx} y={ly} width={lw} height={26} fill={C.panelBg} stroke="#8a8a8a" strokeWidth={1} />
      <line x1={lx + 4 * k} x2={lx + 39 * k} y1={ly + 7.5} y2={ly + 7.5} stroke={C.orange} strokeWidth={1.3} />
      <text x={lx + 45 * k} y={ly + 11} fontSize={9.6 * k} fill="#222" fontFamily={FONT}>{legendLabels[0]}</text>
      <line x1={lx + 154 * k} x2={lx + 190 * k} y1={ly + 7.5} y2={ly + 7.5} stroke={C.blue} strokeWidth={2.6} />
      <text x={lx + 196 * k} y={ly + 11} fontSize={9.6 * k} fill="#222" fontFamily={FONT}>{legendLabels[1]}</text>
      <circle cx={lx + 21.5 * k} cy={ly + 19.5} r={1.1} fill={C.ring} />
      <text x={lx + 45 * k} y={ly + 23} fontSize={9.6 * k} fill="#222" fontFamily={FONT}>{legendLabels[2]}</text>
      <line x1={lx + 154 * k} x2={lx + 190 * k} y1={ly + 19.5} y2={ly + 19.5} stroke={C.red} strokeWidth={1.2} />
      <text x={lx + 196 * k} y={ly + 23} fontSize={9.6 * k} fill="#222" fontFamily={FONT}>{legendLabels[3]}</text>
    </g>
  );
}

export default function App() {
  return (
    <svg
      width={2034}
      height={968}
      viewBox="0 0 2034 968"
      style={{ position: "absolute", left: 0, top: 0, background: "#ffffff", display: "block" }}
    >
      <rect x={0} y={0} width={2034} height={968} fill="#ffffff" />
      <path d="M295,431 V864 H1753 V431" fill="none" stroke="#9a9a9a" strokeWidth={1} />
      {LAYOUT.map((_, i) => (
        <Panel key={i} i={i} />
      ))}
      {captionLines.map((t, j) => (
        <text key={j} x={348} y={906 + j * 29} fontSize={20.7} fontWeight="bold" fill="#000" fontFamily={FONT}>
          {t}
        </text>
      ))}
    </svg>
  );
}
